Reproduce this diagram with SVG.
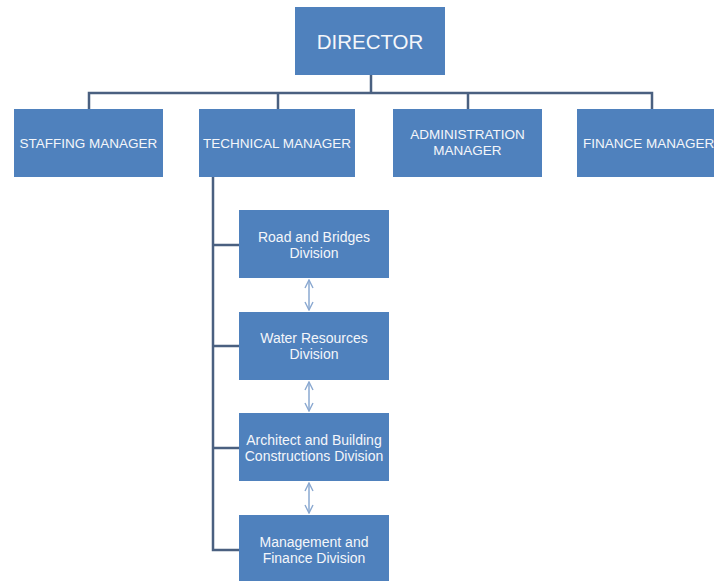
<svg xmlns="http://www.w3.org/2000/svg" width="714" height="581" viewBox="0 0 714 581">
<style>
.box{fill:#4f81bd}
.t{font-family:"Liberation Sans",Arial,sans-serif;fill:#f4f6fa;text-anchor:middle}
.m{font-size:13.5px}
.d{font-size:14px}
.tree{stroke:#4a6080;stroke-width:2.5;fill:none}
.arr{stroke:#8aa8d0;stroke-width:1.5;fill:none;marker-start:url(#ah);marker-end:url(#ah)}
</style>
<defs>
<marker id="ah" viewBox="0 0 10 10" refX="9" refY="5" markerWidth="10" markerHeight="10" markerUnits="userSpaceOnUse" orient="auto-start-reverse">
<path d="M1,1 L9,5 L1,9" fill="none" stroke="#8aa8d0" stroke-width="1.4"/>
</marker>
</defs>
<rect width="714" height="581" fill="#ffffff"/>
<g id="connectors">
<path class="tree" d="M371,75 V93 M89,109 V93 H652 V109 M278,93 V109 M468,93 V109"/>
<path class="tree" d="M213,177 V550 H239 M213,245 H239 M213,346 H239 M213,448 H239"/>
<line class="arr" x1="309" y1="280" x2="309" y2="310"/>
<line class="arr" x1="309" y1="382" x2="309" y2="411"/>
<line class="arr" x1="309" y1="483" x2="309" y2="513"/>
</g>
<g id="director"><rect class="box" x="295" y="7" width="150" height="68"/><text class="t" x="370" y="49" font-size="20.5">DIRECTOR</text></g>
<g id="staffing"><rect class="box" x="14" y="109" width="149" height="68"/><text class="t m" x="88.5" y="148">STAFFING MANAGER</text></g>
<g id="technical"><rect class="box" x="199" y="109" width="156" height="68"/><text class="t m" x="277" y="148">TECHNICAL MANAGER</text></g>
<g id="administration"><rect class="box" x="393" y="109" width="149" height="68"/><text class="t m" x="467.5" y="139">ADMINISTRATION</text><text class="t m" x="467.5" y="155">MANAGER</text></g>
<g id="finance"><rect class="box" x="577" y="109" width="150" height="68"/><text class="t m" x="583" y="148" style="text-anchor:start">FINANCE MANAGER</text></g>
<g id="road"><rect class="box" x="239" y="210" width="150" height="68"/><text class="t d" x="314" y="242">Road and Bridges</text><text class="t d" x="314" y="258">Division</text></g>
<g id="water"><rect class="box" x="239" y="312" width="150" height="68"/><text class="t d" x="314" y="343">Water Resources</text><text class="t d" x="314" y="359">Division</text></g>
<g id="architect"><rect class="box" x="239" y="413" width="150" height="68"/><text class="t d" x="314" y="445">Architect and Building</text><text class="t d" x="314" y="461">Constructions Division</text></g>
<g id="management"><rect class="box" x="239" y="515" width="150" height="68"/><text class="t d" x="314" y="547">Management and</text><text class="t d" x="314" y="563">Finance Division</text></g>
</svg>
